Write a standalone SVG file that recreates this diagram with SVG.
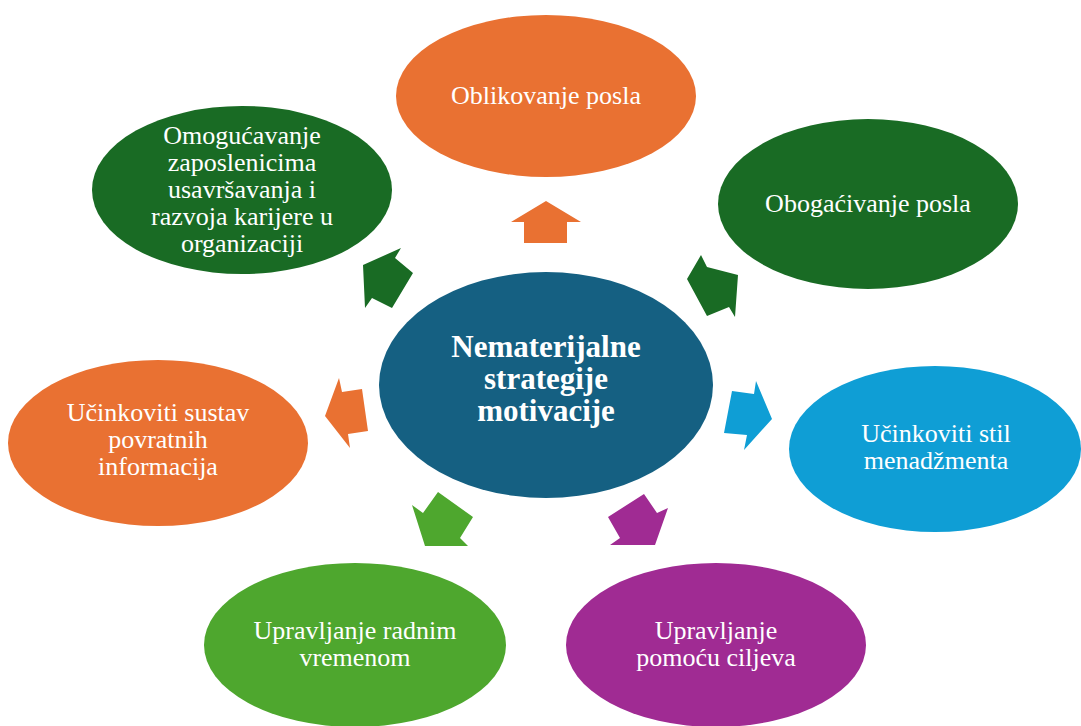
<svg xmlns="http://www.w3.org/2000/svg" width="1081" height="726" viewBox="0 0 1081 726">
<style>
.t{font-family:"Liberation Serif","Times New Roman",serif;font-size:26px;fill:#ffffff;text-anchor:middle}
.c{font-family:"Liberation Serif","Times New Roman",serif;font-size:31px;font-weight:bold;fill:#ffffff;text-anchor:middle}
.or{fill:#E97132}.dg{fill:#196B24}.bl{fill:#0F9ED5}.lg{fill:#4EA72E}.pu{fill:#A02B93}.ce{fill:#156082}
</style>
<rect width="1081" height="726" fill="#ffffff"/>
<g id="connectors">
<polygon class="or" points="546,201 581,222 567,222 567,243 524,243 524,222 511,222"/>
<polygon class="dg" points="363,265 401,248 395,258 413,273 392,308 372,298 365,308"/>
<polygon class="dg" points="701,255 707,267 738,275 735,317 729,307 707,316 687,279"/>
<polygon class="or" points="339,378 342,392 362,389 368,431 348,434 350,448 325,416"/>
<polygon class="bl" points="756,381 754,394 732,391 724,433 747,435 744,450 772,419"/>
<polygon class="lg" points="438,492 473,517 460,538 468,546 425,546 412,505 423,513"/>
<polygon class="pu" points="644,494 657,513 668,508 655,545 610,545 620,538 608,517"/>
</g>
<g id="center">
<ellipse class="ce" cx="546" cy="385" rx="167" ry="113"/>
<text class="c" x="546" y="357">Nematerijalne</text>
<text class="c" x="546" y="389">strategije</text>
<text class="c" x="546" y="421">motivacije</text>
</g>
<g id="oblikovanje">
<ellipse class="or" cx="546" cy="96" rx="150" ry="81"/>
<text class="t" x="546" y="104">Oblikovanje posla</text>
</g>
<g id="omogucavanje">
<ellipse class="dg" cx="242" cy="190" rx="150" ry="84"/>
<text class="t" x="242" y="144">Omogućavanje</text>
<text class="t" x="242" y="171">zaposlenicima</text>
<text class="t" x="242" y="198">usavršavanja i</text>
<text class="t" x="242" y="225">razvoja karijere u</text>
<text class="t" x="242" y="252">organizaciji</text>
</g>
<g id="obogacivanje">
<ellipse class="dg" cx="868" cy="204" rx="150" ry="85"/>
<text class="t" x="868" y="212">Obogaćivanje posla</text>
</g>
<g id="povratne">
<ellipse class="or" cx="158" cy="443" rx="150" ry="83"/>
<text class="t" x="158" y="421">Učinkoviti sustav</text>
<text class="t" x="158" y="448">povratnih</text>
<text class="t" x="158" y="475">informacija</text>
</g>
<g id="stil">
<ellipse class="bl" cx="935" cy="449" rx="146" ry="83"/>
<text class="t" x="936" y="442">Učinkoviti stil</text>
<text class="t" x="936" y="469">menadžmenta</text>
</g>
<g id="vrijeme">
<ellipse class="lg" cx="355" cy="645" rx="151" ry="82"/>
<text class="t" x="355" y="639">Upravljanje radnim</text>
<text class="t" x="355" y="666">vremenom</text>
</g>
<g id="ciljevi">
<ellipse class="pu" cx="716" cy="645" rx="150" ry="82"/>
<text class="t" x="716" y="639">Upravljanje</text>
<text class="t" x="716" y="666">pomoću ciljeva</text>
</g>
</svg>
